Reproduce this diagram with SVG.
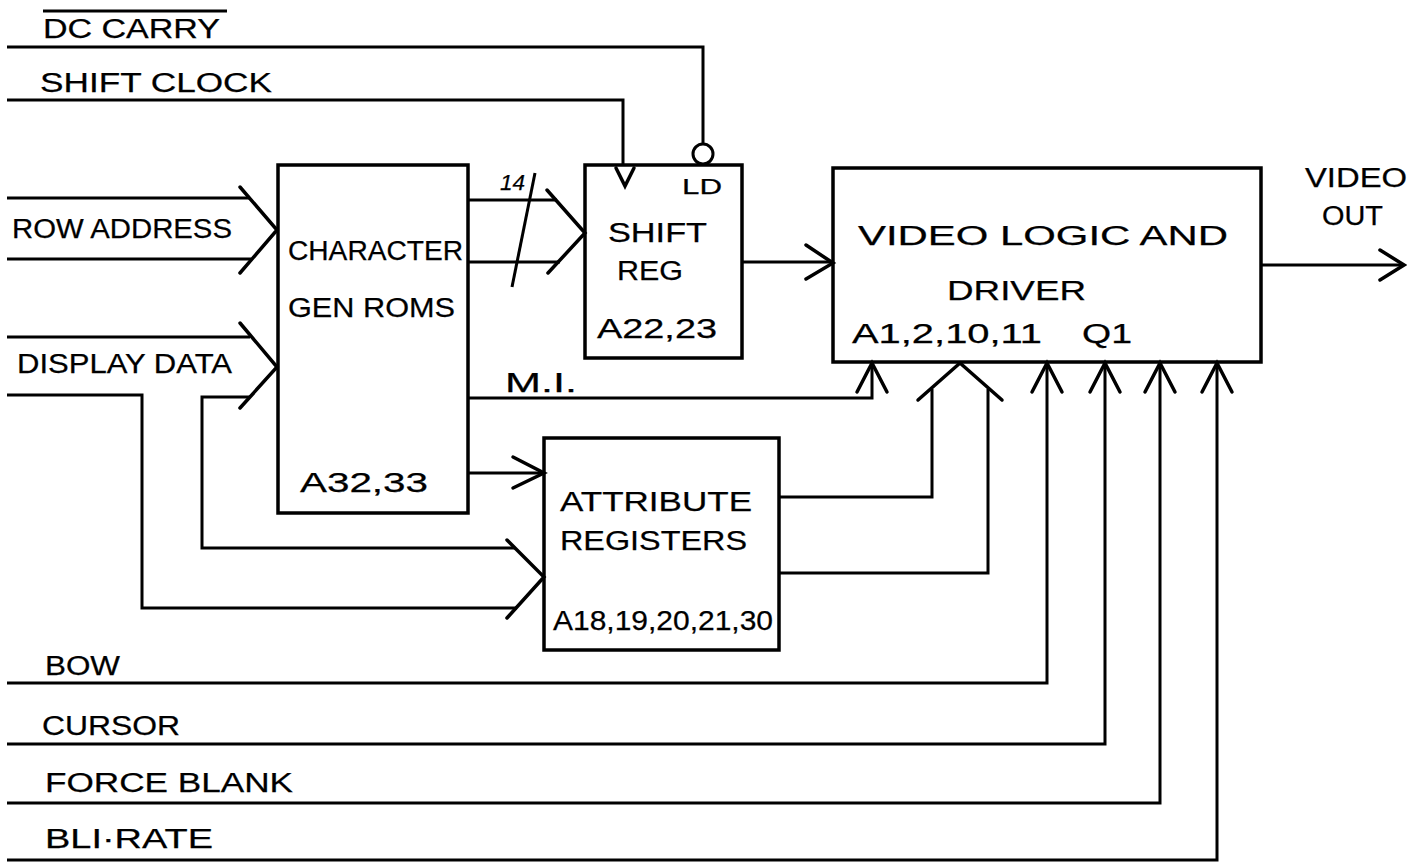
<svg xmlns="http://www.w3.org/2000/svg" width="1407" height="866" viewBox="0 0 1407 866">
<style>
.bg{fill:#fff}
.box{fill:none;stroke:#000;stroke-width:3.5;stroke-linejoin:miter}
.w{fill:none;stroke:#000;stroke-width:3;stroke-linejoin:miter}
.ah{fill:none;stroke:#000;stroke-width:3.5;stroke-linecap:round;stroke-linejoin:miter}
text{font-family:"Liberation Sans",Arial,sans-serif;font-size:27px;fill:#000;stroke:#000;stroke-width:0.25}
.s{font-size:22px}
.i{font-style:italic}
</style>
<rect class="bg" x="0" y="0" width="1407" height="866"/>

<g id="connectors">
  <!-- DC CARRY -->
  <path class="w" d="M7,47 H703 V144"/>
  <circle class="w" cx="703" cy="154" r="10"/>
  <!-- SHIFT CLOCK -->
  <path class="w" d="M7,100 H623 V165"/>
  <!-- ROW ADDRESS -->
  <path class="w" d="M7,198 H250 M7,259 H251"/>
  <polyline class="ah" points="240,187 277,230 240,273"/>
  <!-- DISPLAY DATA -->
  <path class="w" d="M7,337 H250"/>
  <polyline class="ah" points="240,323 277,367 240,408"/>
  <path class="w" d="M7,395 H142 V608 H517"/>
  <path class="w" d="M250,397 H202 V548 H515"/>
  <polyline class="ah" points="507,540 544,577 507,618"/>
  <!-- char -> attr -->
  <path class="w" d="M468,473 H544"/>
  <polyline class="ah" points="513,457 544,473 513,488"/>
  <!-- char -> shift reg (14) -->
  <path class="w" d="M468,200 H557 M468,262 H560"/>
  <polyline class="ah" points="547,190 585,233 548,273"/>
  <line class="w" x1="535" y1="173" x2="512" y2="287"/>
  <!-- shift reg -> video -->
  <path class="w" d="M742,262 H833"/>
  <polyline class="ah" points="806,245 833,263 806,279"/>
  <!-- M.I. -->
  <path class="w" d="M468,398 H872 V363"/>
  <polyline class="ah" points="857,392 872,363 887,392"/>
  <!-- attribute -> video -->
  <path class="w" d="M779,497 H932 V389"/>
  <path class="w" d="M779,573 H988 V389"/>
  <polyline class="ah" points="918,400 960,363 1002,400"/>
  <!-- BOW -->
  <path class="w" d="M7,683 H1047 V363"/>
  <polyline class="ah" points="1032,392 1047,363 1062,392"/>
  <!-- CURSOR -->
  <path class="w" d="M7,744 H1105 V363"/>
  <polyline class="ah" points="1090,392 1105,363 1120,392"/>
  <!-- FORCE BLANK -->
  <path class="w" d="M7,803 H1160 V363"/>
  <polyline class="ah" points="1145,392 1160,363 1175,392"/>
  <!-- BLI-RATE -->
  <path class="w" d="M7,860 H1217 V363"/>
  <polyline class="ah" points="1202,392 1217,363 1232,392"/>
  <!-- VIDEO OUT -->
  <path class="w" d="M1261,265 H1404"/>
  <polyline class="ah" points="1380,250 1404,265 1380,280"/>
</g>

<g id="labels">
  <line class="w" x1="43" y1="11" x2="227" y2="11"/>
  <text x="43" y="38" textLength="177" lengthAdjust="spacingAndGlyphs">DC CARRY</text>
  <text x="40" y="92" textLength="232" lengthAdjust="spacingAndGlyphs">SHIFT CLOCK</text>
  <text x="12" y="238" textLength="220" lengthAdjust="spacingAndGlyphs">ROW ADDRESS</text>
  <text x="17" y="373" textLength="215" lengthAdjust="spacingAndGlyphs">DISPLAY DATA</text>
  <text x="500" y="190" class="s i" textLength="25" lengthAdjust="spacingAndGlyphs">14</text>
  <text x="505" y="392" textLength="72" lengthAdjust="spacingAndGlyphs">M.I.</text>
  <text x="1305" y="187" textLength="102" lengthAdjust="spacingAndGlyphs">VIDEO</text>
  <text x="1322" y="225" textLength="61" lengthAdjust="spacingAndGlyphs">OUT</text>
  <text x="45" y="675" textLength="75" lengthAdjust="spacingAndGlyphs">BOW</text>
  <text x="42" y="735" textLength="138" lengthAdjust="spacingAndGlyphs">CURSOR</text>
  <text x="45" y="792" textLength="248" lengthAdjust="spacingAndGlyphs">FORCE BLANK</text>
  <text x="45" y="848" textLength="168" lengthAdjust="spacingAndGlyphs">BLI·RATE</text>
</g>

<g id="char-gen-roms">
  <rect class="box" x="278" y="165" width="190" height="348"/>
  <text x="288" y="260" textLength="175" lengthAdjust="spacingAndGlyphs">CHARACTER</text>
  <text x="288" y="317" textLength="167" lengthAdjust="spacingAndGlyphs">GEN ROMS</text>
  <text x="300" y="492" textLength="128" lengthAdjust="spacingAndGlyphs">A32,33</text>
</g>

<g id="shift-reg">
  <rect class="box" x="585" y="165" width="157" height="193"/>
  <polyline class="ah" points="616,168 625,186 634,168"/>
  <text x="682" y="194" class="s" textLength="40" lengthAdjust="spacingAndGlyphs">LD</text>
  <text x="608" y="242" textLength="99" lengthAdjust="spacingAndGlyphs">SHIFT</text>
  <text x="617" y="280" textLength="66" lengthAdjust="spacingAndGlyphs">REG</text>
  <text x="597" y="338" textLength="120" lengthAdjust="spacingAndGlyphs">A22,23</text>
</g>

<g id="attribute-registers">
  <rect class="box" x="544" y="438" width="235" height="212"/>
  <text x="560" y="511" textLength="192" lengthAdjust="spacingAndGlyphs">ATTRIBUTE</text>
  <text x="560" y="550" textLength="187" lengthAdjust="spacingAndGlyphs">REGISTERS</text>
  <text x="553" y="630" textLength="220" lengthAdjust="spacingAndGlyphs">A18,19,20,21,30</text>
</g>

<g id="video-logic-driver">
  <rect class="box" x="833" y="168" width="428" height="194"/>
  <text x="858" y="245" textLength="370" lengthAdjust="spacingAndGlyphs">VIDEO LOGIC  AND</text>
  <text x="947" y="300" textLength="139" lengthAdjust="spacingAndGlyphs">DRIVER</text>
  <text x="852" y="343" textLength="190" lengthAdjust="spacingAndGlyphs">A1,2,10,11</text>
  <text x="1082" y="343" textLength="50" lengthAdjust="spacingAndGlyphs">Q1</text>
</g>
</svg>
